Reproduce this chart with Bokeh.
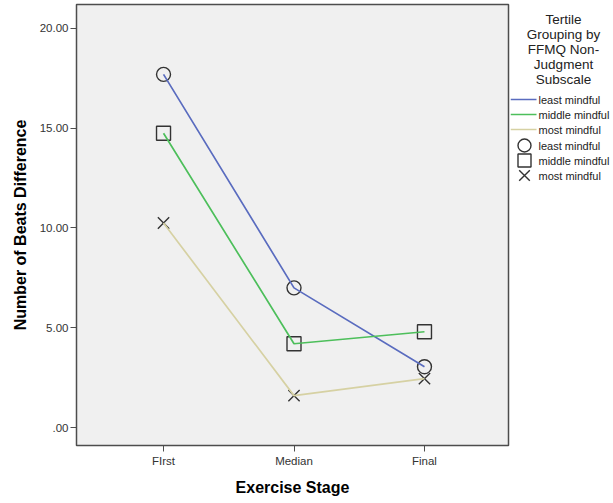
from bokeh.plotting import figure
from bokeh.layouts import row
from bokeh.models import Range1d, FixedTicker
from bokeh.core.properties import value
from bokeh.embed import file_html
from bokeh.resources import INLINE

# ---- data ----
stages = ["FIrst", "Median", "Final"]
stage_pos = [0, 1, 2]
least_mindful = [17.7, 7.0, 3.05]
middle_mindful = [14.75, 4.2, 4.8]
most_mindful = [10.25, 1.6, 2.45]
y_ticks = [0, 5, 10, 15, 20]
y_tick_labels = [".00", "5.00", "10.00", "15.00", "20.00"]
series_names = ["least mindful", "middle mindful", "most mindful"]
legend_title_lines = ["Tertile", "Grouping by", "FFMQ Non-", "Judgment", "Subscale"]

colors = ["#5a6cbf", "#4dbf5b", "#d6d1a3"]
markers = ["circle", "square", "x"]
marker_sizes = [14, 14, 16]
FONT = "Liberation Sans"

FH = 441  # frame height (px)

p = figure(frame_width=432, frame_height=FH, output_backend="svg", toolbar_location=None,
           x_range=Range1d(-0.667, 2.644), y_range=Range1d(-0.9, 21.2),
           min_border_left=76, min_border_right=2, min_border_top=4, min_border_bottom=10)
p.background_fill_color = "#f0f0f0"
p.border_fill_color = "white"
p.outline_line_color = "#4d4d4d"
p.outline_line_width = 1.5
p.xgrid.visible = False
p.ygrid.visible = False

for vals, col, mk, ms in zip([least_mindful, middle_mindful, most_mindful], colors, markers, marker_sizes):
    p.scatter(stage_pos, vals, marker=mk, size=ms, fill_color=None,
              line_color="#333333", line_width=1.4)
    p.line(stage_pos, vals, line_color=col, line_width=1.7)

p.xaxis.ticker = FixedTicker(ticks=stage_pos)
p.xaxis.major_label_overrides = {k: v for k, v in zip(stage_pos, stages)}
p.yaxis.ticker = FixedTicker(ticks=y_ticks)
p.yaxis.major_label_overrides = {k: v for k, v in zip(y_ticks, y_tick_labels)}
for ax in (p.xaxis, p.yaxis):
    ax.minor_tick_line_color = None
    ax.major_tick_in = 0
    ax.major_tick_out = 6
    ax.major_tick_line_color = "#4d4d4d"
    ax.axis_line_color = "#4d4d4d"
    ax.major_label_text_font = FONT
    ax.major_label_text_font_size = "11.5px"
    ax.major_label_text_color = "#333333"
    ax.axis_label_text_font = FONT
    ax.axis_label_text_font_size = "16px"
    ax.axis_label_text_font_style = "bold"
    ax.axis_label_text_color = "black"
p.xaxis.axis_label = "Exercise Stage"
p.yaxis.axis_label = "Number of Beats Difference"
p.xaxis.major_label_standoff = 3
p.xaxis.axis_label_standoff = 9
p.yaxis.major_label_standoff = 2
p.yaxis.axis_label_standoff = 8

# ---- legend panel ----
lw = 100
lg = figure(frame_width=lw, frame_height=FH, output_backend="svg", toolbar_location=None,
            x_range=Range1d(0, lw), y_range=Range1d(FH, 0),
            min_border=0, min_border_top=4)
lg.axis.visible = False
lg.grid.visible = False
lg.outline_line_color = None
lg.background_fill_color = "white"
lg.border_fill_color = "white"

title_y = [15 + 15 * i for i in range(len(legend_title_lines))]
lg.text(x=[53] * len(legend_title_lines), y=title_y, text=legend_title_lines,
        text_align="center", text_baseline="middle", text_font=value(FONT),
        text_font_size="13.5px", text_color="#222222")

item_y0 = 95
for i, (name, col) in enumerate(zip(series_names, colors)):
    yy = item_y0 + 15 * i
    lg.line([0, 26], [yy, yy], line_color=col, line_width=1.7)
    lg.text(x=[28], y=[yy], text=[name], text_baseline="middle",
            text_font=value(FONT), text_font_size="11px", text_color="#222222")
for i, (name, mk, ms) in enumerate(zip(series_names, markers, marker_sizes)):
    yy = item_y0 + 46 + 15 * i
    lg.scatter([14], [yy], marker=mk, size=ms - 1, fill_color=None,
               line_color="#333333", line_width=1.4)
    lg.text(x=[28], y=[yy], text=[name], text_baseline="middle",
            text_font=value(FONT), text_font_size="11px", text_color="#222222")

layout = row(p, lg)
open("out.html", "w").write(file_html(layout, INLINE))
